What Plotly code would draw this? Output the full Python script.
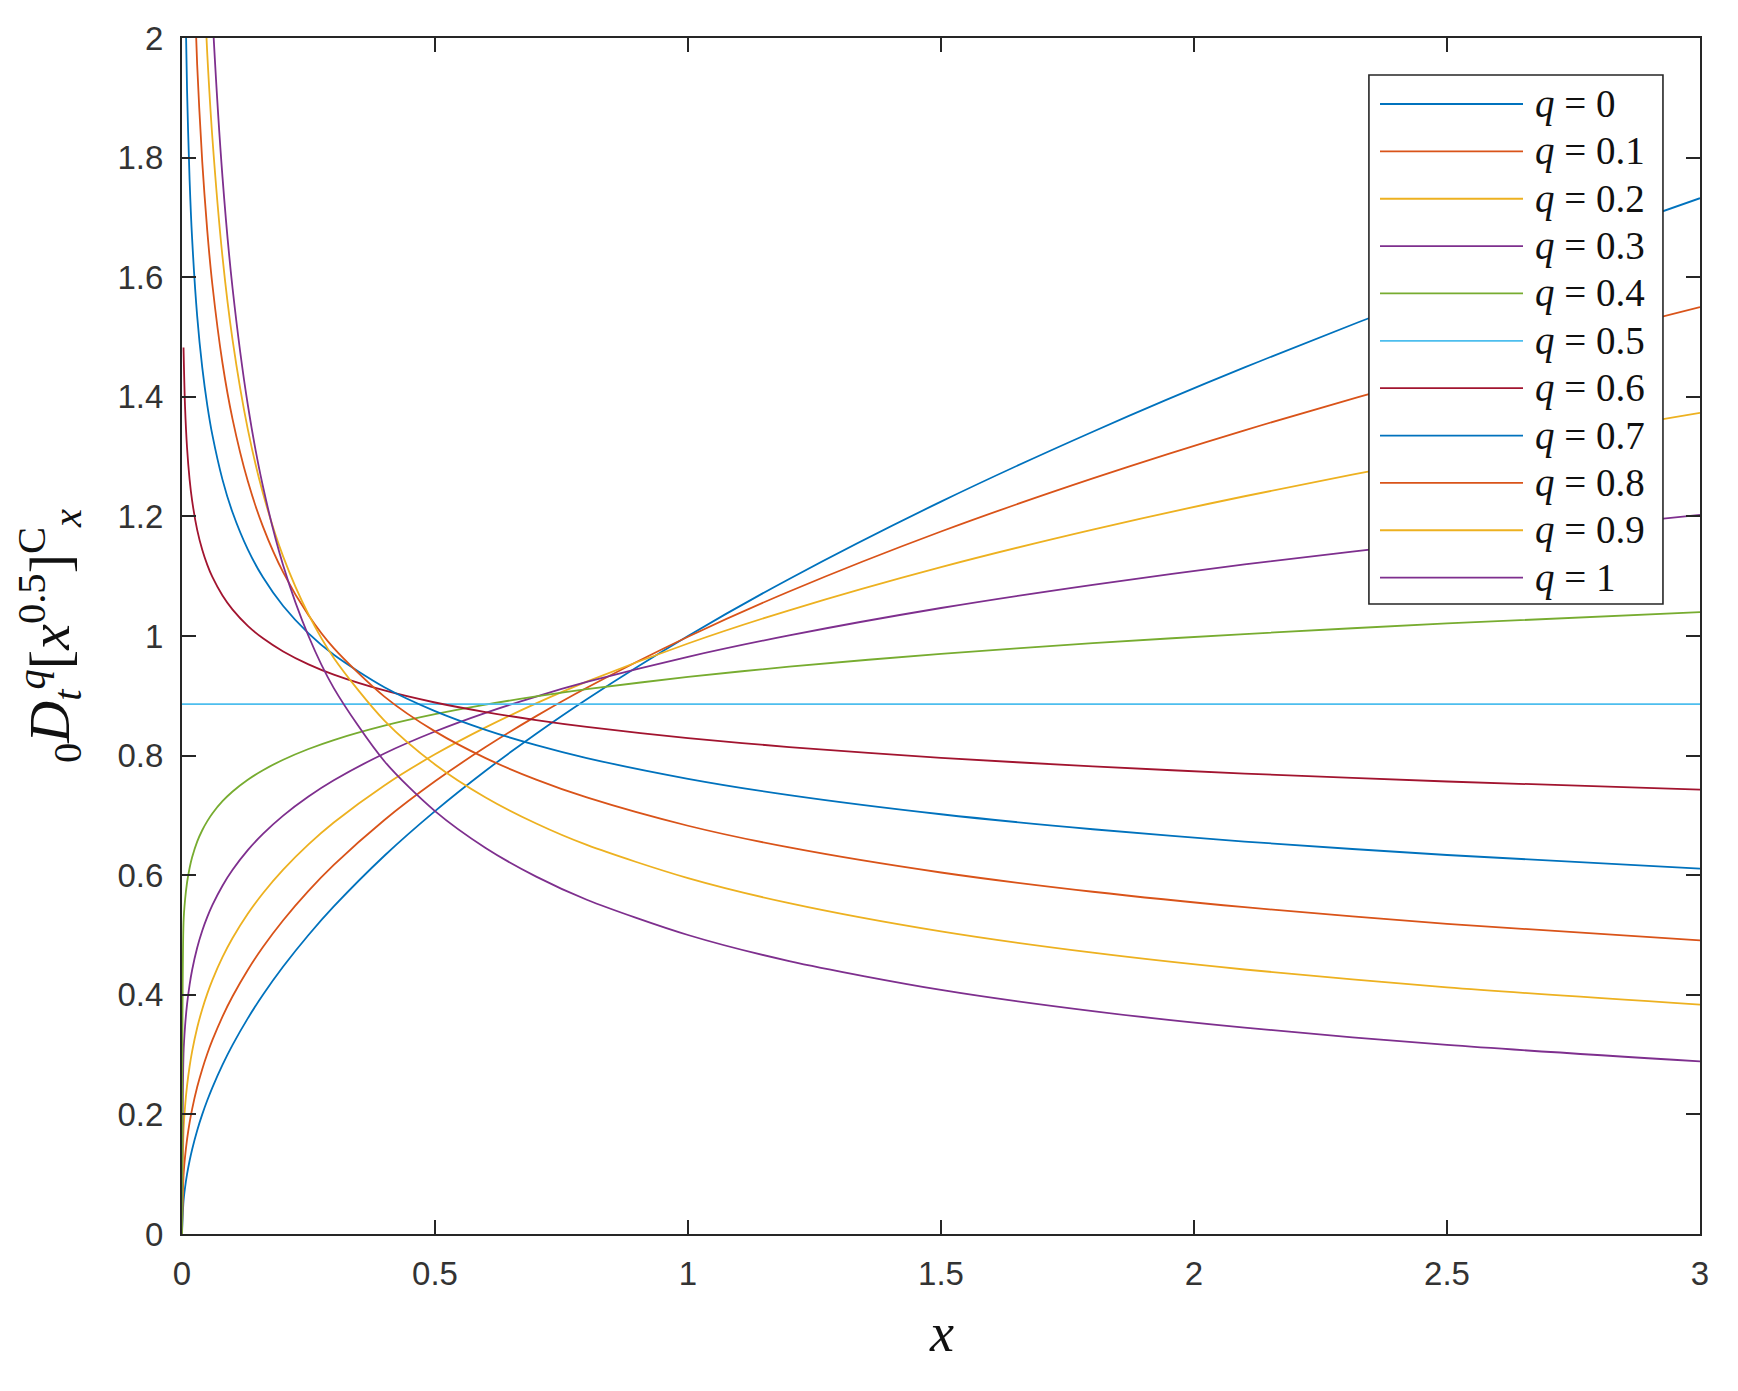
import plotly.graph_objects as go

# sample points along x (the curves are sampled more densely near x = 0)
x = [0, 0.003, 0.006, 0.01, 0.015, 0.02, 0.03, 0.04, 0.05, 0.06, 0.08, 0.1,
     0.13, 0.16, 0.2, 0.25, 0.3, 0.4, 0.5, 0.6, 0.7, 0.8, 1, 1.2, 1.5, 1.8,
     2.1, 2.5, 3]

q_labels = ['0', '0.1', '0.2', '0.3', '0.4', '0.5', '0.6', '0.7', '0.8', '0.9', '1']

# values, one list per q (None where undefined at x = 0)
y_q00 = [0, 0.0548, 0.0775, 0.1, 0.1225, 0.1414, 0.1732, 0.2, 0.2236, 0.2449,
         0.2828, 0.3162, 0.3606, 0.4, 0.4472, 0.5, 0.5477, 0.6325, 0.7071,
         0.7746, 0.8367, 0.8944, 1.0, 1.0954, 1.2247, 1.3416, 1.4491, 1.5811,
         1.7321]
y_q01 = [0, 0.0978, 0.1290, 0.1583, 0.1862, 0.2089, 0.2457, 0.2756, 0.3014,
         0.3241, 0.3637, 0.3976, 0.4416, 0.4799, 0.5247, 0.5737, 0.6171,
         0.6923, 0.7570, 0.8142, 0.8660, 0.9135, 0.9988, 1.0744, 1.1747,
         1.2635, 1.3439, 1.4410, 1.5500]
y_q02 = [0, 0.1729, 0.2128, 0.2480, 0.2801, 0.3054, 0.3449, 0.3760, 0.4020,
         0.4246, 0.4629, 0.4949, 0.5355, 0.5699, 0.6093, 0.6515, 0.6881,
         0.7502, 0.8021, 0.8472, 0.8873, 0.9236, 0.9875, 1.0430, 1.1152,
         1.1779, 1.2337, 1.2999, 1.3730]
y_q03 = [0, 0.3020, 0.3469, 0.3843, 0.4167, 0.4414, 0.4787, 0.5070, 0.5302,
         0.5499, 0.5824, 0.6090, 0.6418, 0.6690, 0.6996, 0.7315, 0.7587,
         0.8036, 0.8403, 0.8715, 0.8988, 0.9231, 0.9652, 1.0010, 1.0468,
         1.0856, 1.1196, 1.1593, 1.2024]
y_q04 = [0, 0.5211, 0.5585, 0.5878, 0.6121, 0.6299, 0.6561, 0.6752, 0.6904,
         0.7032, 0.7237, 0.7400, 0.7597, 0.7756, 0.7931, 0.8110, 0.8260,
         0.8500, 0.8692, 0.8852, 0.8990, 0.9110, 0.9316, 0.9487, 0.9702,
         0.9880, 1.0033, 1.0210, 1.0398]
y_q05 = [0.8862] * len(x)
y_q06 = [None, 1.4825, 1.3833, 1.3143, 1.2620, 1.2264, 1.1775, 1.1442, 1.1190,
         1.0987, 1.0676, 1.0440, 1.0169, 0.9961, 0.9742, 0.9526, 0.9354,
         0.9089, 0.8888, 0.8728, 0.8594, 0.8480, 0.8293, 0.8143, 0.7963,
         0.7820, 0.7700, 0.7567, 0.7431]
y_q07 = [None, 2.4326, 2.1178, 1.9121, 1.7631, 1.6645, 1.5349, 1.4491, 1.3858,
         1.3362, 1.2615, 1.2064, 1.1448, 1.0982, 1.0502, 1.0044, 0.9685,
         0.9143, 0.8744, 0.8431, 0.8175, 0.7959, 0.7612, 0.7339, 0.7019,
         0.6768, 0.6562, 0.6338, 0.6110]
y_q08 = [None, 3.9003, 3.1680, 2.7179, 2.4066, 2.2076, 1.9548, 1.7931, 1.6770,
         1.5878, 1.4565, 1.3622, 1.2590, 1.1830, 1.1064, 1.0348, 0.9797,
         0.8987, 0.8405, 0.7958, 0.7598, 0.7300, 0.6827, 0.6464, 0.6045,
         0.5723, 0.5465, 0.5186, 0.4910]
y_q09 = [None, 6.077, 4.606, 3.7548, 3.1926, 2.8456, 2.4196, 2.1566, 1.9724,
         1.8337, 1.6343, 1.4948, 1.3459, 1.2386, 1.1328, 1.0361, 0.9633,
         0.8586, 0.7852, 0.7300, 0.6864, 0.6506, 0.5951, 0.5533, 0.5060,
         0.4704, 0.4423, 0.4125, 0.3835]
y_q10 = [None, 9.129, 6.455, 5.0, 4.0825, 3.5355, 2.8868, 2.5, 2.2361, 2.0412,
         1.7678, 1.5811, 1.3868, 1.25, 1.1180, 1.0, 0.9129, 0.7906, 0.7071,
         0.6455, 0.5976, 0.5590, 0.5, 0.4564, 0.4082, 0.3727, 0.3450, 0.3162,
         0.2887]

series = [y_q00, y_q01, y_q02, y_q03, y_q04, y_q05, y_q06, y_q07, y_q08, y_q09, y_q10]

# MATLAB default colour order (cycles after seven)
matlab_colors = ['#0072BD', '#D95319', '#EDB120', '#7E2F8E', '#77AC30',
                 '#4DBEEE', '#A2142F']

axis_color = '#262626'
serif = 'Liberation Serif, Times New Roman, serif'

fig = go.Figure()

for i, (lab, y) in enumerate(zip(q_labels, series)):
    fig.add_trace(go.Scatter(
        x=x, y=y,
        mode='lines',
        line=dict(color=matlab_colors[i % 7], width=1.8, shape='spline', smoothing=0.8),
        name=f'q = {lab}',
        showlegend=False,
    ))

# legend box drawn MATLAB-style (long line samples)
box_x0, box_x1 = 0.7819, 0.9756
box_y0, box_y1 = 0.5268, 0.9691
fig.add_shape(type='rect', xref='paper', yref='paper',
              x0=box_x0, x1=box_x1, y0=box_y0, y1=box_y1,
              line=dict(color=axis_color, width=1.6), fillcolor='white', layer='above')

row0 = 0.9448
row_step = 0.0396
for i, lab in enumerate(q_labels):
    yy = row0 - i * row_step
    fig.add_shape(type='line', xref='paper', yref='paper',
                  x0=0.7892, x1=0.8834, y0=yy, y1=yy,
                  line=dict(color=matlab_colors[i % 7], width=1.8), layer='above')
    fig.add_annotation(xref='paper', yref='paper', x=0.8900, y=yy,
                       xanchor='left', yanchor='middle', showarrow=False,
                       text=f'<i>q</i> = {lab}',
                       font=dict(family=serif, size=39, color='#111111'))

# axis labels
fig.add_annotation(xref='paper', yref='paper', x=-0.087, y=0.5,
                   xanchor='center', yanchor='middle', showarrow=False, textangle=-90,
                   text='<sub>0</sub><i>D</i><sub><i>t</i></sub><sup><i>q</i></sup>'
                        '[<i>x</i><sup>0.5</sup>]<sup>C</sup><sub><i>x</i></sub>',
                   font=dict(family=serif, size=58, color='#111111'))
fig.add_annotation(xref='paper', yref='paper', x=0.5, y=-0.083,
                   xanchor='center', yanchor='middle', showarrow=False,
                   text='<i>x</i>',
                   font=dict(family=serif, size=54, color='#111111'))

axis_common = dict(
    showline=True, linecolor=axis_color, linewidth=2, mirror='allticks',
    ticks='inside', ticklen=14, tickwidth=1.5, tickcolor=axis_color,
    showgrid=False, zeroline=False,
    tickfont=dict(family='Liberation Sans, Arial, sans-serif', size=33, color='#333333'),
)

fig.update_xaxes(range=[0, 3], tickvals=[0, 0.5, 1, 1.5, 2, 2.5, 3],
                 ticktext=['0', '0.5', '1', '1.5', '2', '2.5', '3'],
                 ticklabelstandoff=9, **axis_common)
fig.update_yaxes(range=[0, 2], tickvals=[0, 0.2, 0.4, 0.6, 0.8, 1, 1.2, 1.4, 1.6, 1.8, 2],
                 ticktext=['0', '0.2', '0.4', '0.6', '0.8', '1', '1.2', '1.4', '1.6', '1.8', '2'],
                 ticklabelstandoff=10, **axis_common)

# the page body adds an 8px margin, so the figure is 8px smaller on each side
fig.update_layout(
    width=1730, height=1383,
    margin=dict(l=174, r=38, t=30, b=157),
    paper_bgcolor='white', plot_bgcolor='white',
    showlegend=False,
)

fig.write_html("out.html")
